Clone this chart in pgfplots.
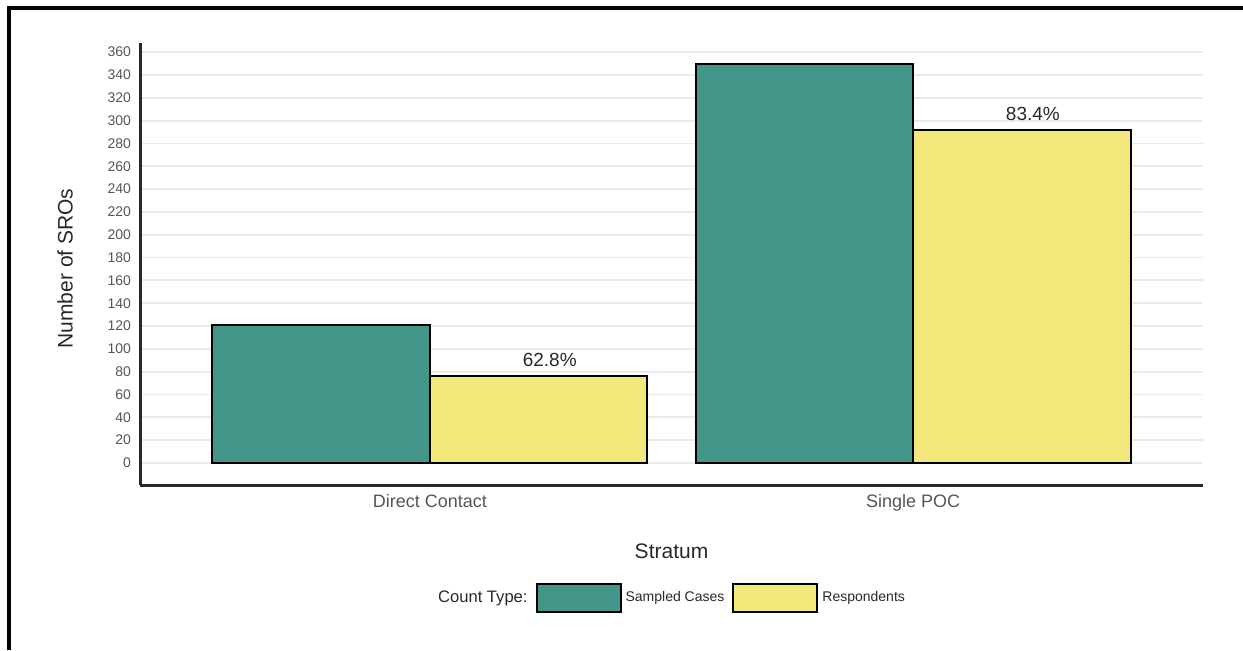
\documentclass[border=0pt]{standalone}
\usepackage{fontspec}
\setmainfont{Liberation Sans}
\usepackage{pgfplots}
\pgfplotsset{compat=1.18}
\definecolor{tealc}{RGB}{67,150,137}
\definecolor{yelc}{RGB}{242,232,124}
\definecolor{tickgray}{RGB}{85,85,85}
\definecolor{gridc}{RGB}{235,235,235}
\definecolor{axc}{RGB}{40,40,40}
\begin{document}
\begin{tikzpicture}
\path[use as bounding box] (0,0) rectangle (621.5pt,325pt);
\draw[line width=2pt] (4.5pt,0) -- (4.5pt,321pt) -- (621.5pt,321pt);
\begin{axis}[
  at={(70pt,82.5pt)}, anchor=south west,
  scale only axis, width=531.5pt, height=221pt,
  xmin=-0.6, xmax=1.6, ymin=-19.3, ymax=368,
  axis x line*=bottom, axis y line*=left,
  axis line style={-, line width=1.5pt, color=axc},
  xtick={0,1}, xticklabels={Direct Contact, Single POC},
  ytick={0,20,...,360},
  major tick length=0pt,
  ymajorgrids, grid style={gridc, line width=0.9pt},
  /pgf/number format/assume math mode=true,
  yticklabel style={font=\fontsize{7}{8}\selectfont, text=tickgray, xshift=-1pt},
  xticklabel style={font=\fontsize{9}{10}\selectfont, text=tickgray, yshift=-1pt},
  ylabel={Number of SROs}, xlabel={Stratum},
  every axis y label/.style={at={(axis description cs:-0.0705,0.49)}, rotate=90, anchor=center, font=\fontsize{10.5}{12}\selectfont, text=axc},
  every axis x label/.style={at={(axis description cs:0.5,-0.149)}, anchor=center, font=\fontsize{10.5}{12}\selectfont, text=axc},
  bar width=0.45,
  legend columns=3,
  legend style={at={(0.5,-0.256)}, anchor=center, draw=none, fill=none,
    font=\fontsize{7}{8}\selectfont, text=axc,
    /tikz/every even column/.append style={column sep=2pt},
    /tikz/every odd column/.append style={column sep=0pt}},
  clip=false,
]
\addplot[ybar, bar shift=-0.225, fill=tealc, draw=black, line width=1pt, forget plot] coordinates {(0,121) (1,350)};
\addplot[ybar, bar shift=0.225, fill=yelc, draw=black, line width=1pt, forget plot] coordinates {(0,76) (1,292)};
\addplot[draw=none, mark=none, forget plot, nodes near coords, point meta=explicit symbolic,
  nodes near coords style={anchor=center, yshift=8pt, font=\fontsize{9.5}{11}\selectfont, text=axc}]
  coordinates {(0.248,76)[62.8\%] (1.248,292)[83.4\%]};
\addlegendimage{empty legend}
\addlegendentry{\fontsize{8.3}{10}\selectfont Count Type:}
\addlegendimage{legend image code/.code={\draw[fill=tealc, draw=black, line width=1pt] (0pt,-7pt) rectangle (42pt,7pt);}}
\addlegendentry{Sampled Cases}
\addlegendimage{legend image code/.code={\draw[fill=yelc, draw=black, line width=1pt] (0pt,-7pt) rectangle (42pt,7pt);}}
\addlegendentry{Respondents}
\end{axis}
\end{tikzpicture}
\end{document}
